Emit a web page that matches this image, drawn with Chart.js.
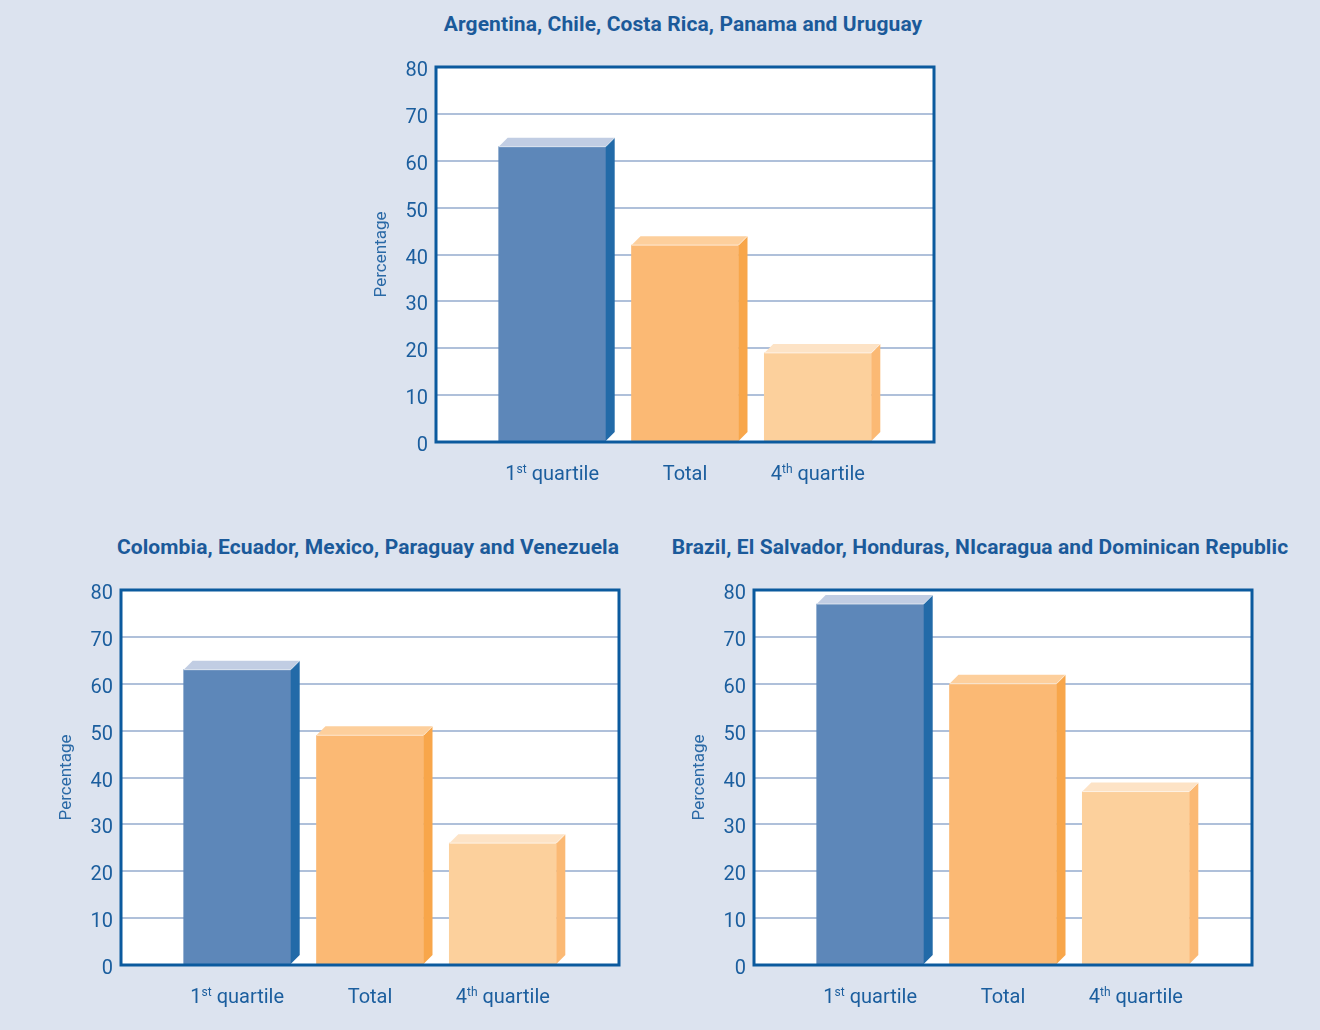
<!DOCTYPE html>
<html>
<head>
<meta charset="utf-8">
<script src="https://cdn.jsdelivr.net/npm/chart.js@4.4.0/dist/chart.umd.min.js"></script>
<style>
  body { margin: 0; background: #dce3ef; width: 1320px; height: 1030px; position: relative; overflow: hidden; font-family: Roboto, "Liberation Sans", sans-serif; }
  canvas { position: absolute; }
  .ttl { position: absolute; transform: translateX(-50%); white-space: nowrap; font-weight: bold; font-size: 21px; line-height: 24px; color: #1b5a9a; letter-spacing: 0.1px; }
</style>
</head>
<body>
<div class="ttl" style="left:683px; top:12px;">Argentina, Chile, Costa Rica, Panama and Uruguay</div>
<div class="ttl" style="left:368px; top:535px;">Colombia, Ecuador, Mexico, Paraguay and Venezuela</div>
<div class="ttl" style="left:980px; top:535px;">Brazil, El Salvador, Honduras, NIcaragua and Dominican Republic</div>

<canvas id="c1" width="588" height="455" style="left:356px; top:47px;"></canvas>
<canvas id="c2" width="588" height="455" style="left:41px; top:570px;"></canvas>
<canvas id="c3" width="588" height="455" style="left:674px; top:570px;"></canvas>

<script>
// data
var categories = ['1st quartile', 'Total', '4th quartile'];
var yTicks = [0, 10, 20, 30, 40, 50, 60, 70, 80];
var groupA = [63, 42, 19];   // Argentina, Chile, Costa Rica, Panama, Uruguay
var groupB = [63, 49, 26];   // Colombia, Ecuador, Mexico, Paraguay, Venezuela
var groupC = [77, 60, 37];   // Brazil, El Salvador, Honduras, Nicaragua, Dominican Rep.

var FRONT = ['#5d87b9', '#fbb974', '#fcd09c'];
var SIDE  = ['#226aa8', '#f8a64a', '#fbb974'];
var TOP   = ['#c1cde3', '#fdcf9c', '#fde3c6'];
var DEPTH = 9;
var BLUE = '#1b5e9e';

var bars3d = {
    id: 'bars3d',
    beforeDraw: function(chart) {
        var a = chart.chartArea, ctx = chart.ctx;
        ctx.save();
        ctx.fillStyle = '#ffffff';
        ctx.fillRect(a.left, a.top, a.right - a.left, a.bottom - a.top);
        ctx.restore();
    },
    afterDatasetsDraw: function(chart) {
        var ctx = chart.ctx, a = chart.chartArea;
        ctx.save();
        chart.getDatasetMeta(0).data.forEach(function(bar, i) {
            var p = bar.getProps(['x', 'y', 'base', 'width'], true);
            var l = p.x - p.width / 2, r = p.x + p.width / 2, d = DEPTH;
            // top face
            ctx.fillStyle = TOP[i];
            ctx.beginPath();
            ctx.moveTo(l, p.y); ctx.lineTo(l + d, p.y - d); ctx.lineTo(r + d, p.y - d); ctx.lineTo(r, p.y);
            ctx.closePath(); ctx.fill();
            // side face
            ctx.fillStyle = SIDE[i];
            ctx.beginPath();
            ctx.moveTo(r, p.y); ctx.lineTo(r + d, p.y - d); ctx.lineTo(r + d, p.base - d); ctx.lineTo(r, p.base);
            ctx.closePath(); ctx.fill();
            // light edge
            ctx.strokeStyle = 'rgba(255,255,255,0.6)';
            ctx.lineWidth = 1;
            ctx.beginPath();
            ctx.moveTo(l, p.y); ctx.lineTo(r, p.y); ctx.lineTo(r + d, p.y - d);
            ctx.stroke();
        });
        // frame
        ctx.strokeStyle = '#0b5a9e';
        ctx.lineWidth = 3;
        ctx.strokeRect(a.left, a.top, a.right - a.left, a.bottom - a.top);

        // category labels with superscripts
        var xs = chart.scales.x;
        ctx.fillStyle = BLUE;
        ctx.textBaseline = 'alphabetic';
        categories.forEach(function(lab, i) {
            var m = lab.match(/^(\d)(st|nd|rd|th)(.*)$/);
            var parts = m ? [[m[1], 0], [m[2], 1], [m[3], 0]] : [[lab, 0]];
            var w = 0;
            parts.forEach(function(pt) {
                ctx.font = (pt[1] ? '12px' : '20px') + ' Roboto';
                w += ctx.measureText(pt[0]).width;
            });
            var x = xs.getPixelForValue(i + 1) - w / 2;
            var y = a.bottom + 38;
            parts.forEach(function(pt) {
                ctx.font = (pt[1] ? '12px' : '20px') + ' Roboto';
                ctx.textAlign = 'left';
                ctx.fillText(pt[0], x, pt[1] ? y - 7 : y);
                x += ctx.measureText(pt[0]).width;
            });
        });
        ctx.restore();
    }
};

function makeChart(id, values) {
    var ctx = document.getElementById(id).getContext('2d');
    return new Chart(ctx, {
        type: 'bar',
        data: {
            datasets: [{
                data: values.map(function(v, i) { return { x: i + 1, y: v }; }),
                backgroundColor: FRONT,
                borderWidth: 0,
                barThickness: 107
            }]
        },
        options: {
            responsive: false,
            animation: false,
            layout: { padding: { left: 0, top: 10, right: 10, bottom: 0 } },
            plugins: { legend: { display: false }, tooltip: { enabled: false } },
            scales: {
                x: {
                    type: 'linear',
                    offset: false,
                    min: 0.125,
                    max: 3.875,
                    grid: { display: false },
                    border: { display: false },
                    ticks: { display: false },
                    afterFit: function(s) { s.height = 60; }
                },
                y: {
                    min: 0,
                    max: 80,
                    afterBuildTicks: function(s) { s.ticks = yTicks.map(function(v) { return { value: v }; }); },
                    grid: { color: '#afc0da', lineWidth: 2, drawTicks: false },
                    border: { display: false },
                    ticks: { color: BLUE, font: { family: 'Roboto', size: 20 }, padding: 8, labelOffset: 4 },
                    title: { display: true, text: 'Percentage', color: '#2a69a6', font: { family: 'Roboto', size: 17 }, padding: { top: 16, bottom: 0 } },
                    afterFit: function(s) { s.width = 80; }
                }
            }
        },
        plugins: [bars3d]
    });
}

window.onload = function() {
    makeChart('c1', groupA);
    makeChart('c2', groupB);
    makeChart('c3', groupC);
};
</script>
</body>
</html>
